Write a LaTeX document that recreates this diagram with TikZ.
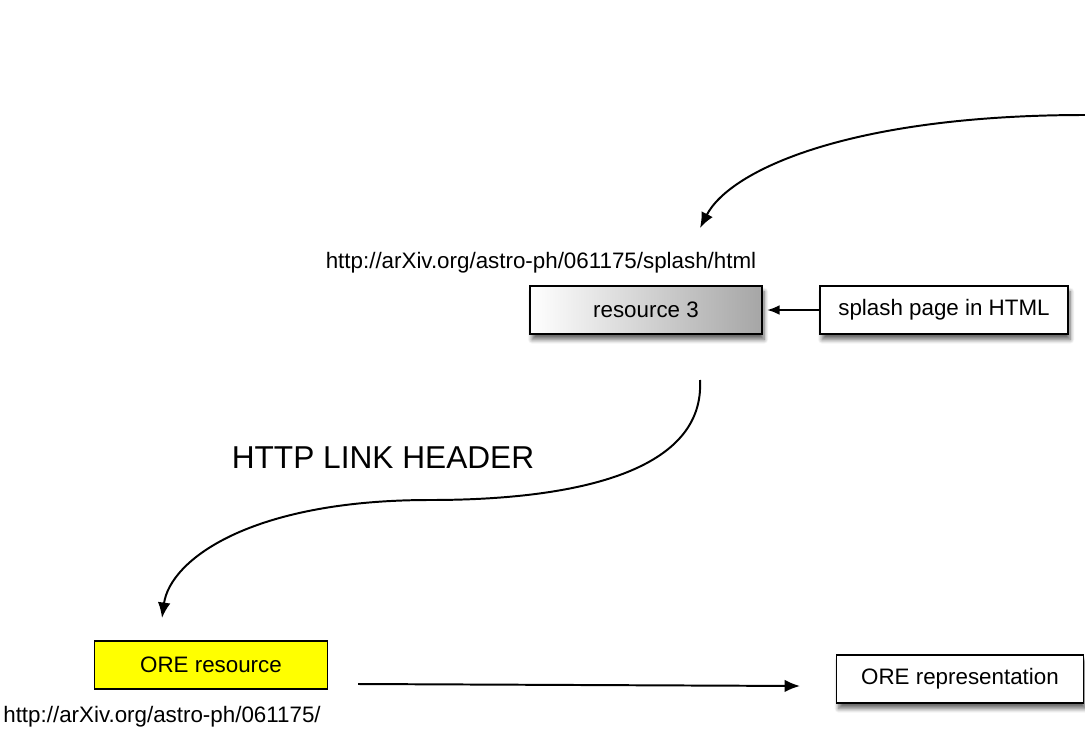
\documentclass[tikz,border=0pt]{standalone}
\usepackage{fontspec}
\setmainfont{Liberation Sans}
\usetikzlibrary{shadows.blur,arrows.meta}
\definecolor{oreyellow}{RGB}{255,255,0}

\begin{document}
\begin{tikzpicture}[x=0.025cm,y=-0.025cm,
  every node/.style={font=\fontsize{15.9}{19}\selectfont},
  box/.style={draw,line width=1.1pt,minimum width=5.8cm,minimum height=1.2cm,inner sep=0pt},
  shade box/.style={box,blur shadow={shadow xshift=1.5pt,shadow yshift=-4pt,
    shadow blur steps=8,shadow blur radius=3pt,shadow opacity=60}},
  flow/.style={-{Latex[length=11pt,width=9pt]},line width=1.4pt}]

\useasboundingbox (0,0) rectangle (1085,730);

% Boxes
\node[shade box,left color=white,right color=black!35] (res3) at (646,310) {resource 3};
\node[shade box,fill=white,minimum width=6.2cm] (splash) at (944,310) {splash page in HTML};
\node[box,fill=oreyellow,minimum width=5.825cm] (ore) at (211,665) {ORE resource};
\node[shade box,fill=white,minimum width=6.175cm] (orerep) at (960,679) {ORE representation};

% URLs
\node (res3 url) at (541,263) {http://arXiv.org/astro-ph/061175/splash/html};
\node (ore url) at (162,717) {http://arXiv.org/astro-ph/061175/};

% Loose ends of the curves
\coordinate (in top) at (1085,115);
\coordinate (in end) at (700,228);
\coordinate (hdr start) at (700,380);
\coordinate (hdr mid) at (430,500);
\coordinate (hdr end) at (162,618);
\coordinate (rep start) at (358,684);
\coordinate (rep end) at (800,686);

% Flows
\draw[flow,-{Latex[length=9pt,width=7pt]}] (splash.west) -- ([xshift=3pt]res3.east);
\draw[flow] (in top) .. controls (850,115) and (730,170) .. (in end);
\draw[flow] (hdr start) .. controls (705,470) and (580,500) .. (hdr mid)
  .. controls (250,500) and (170,560) .. (hdr end);
\draw[flow] (rep start) -- (rep end);

% Header label
\node[font=\fontsize{22.5}{27}\selectfont] (hdr) at (383,458) {HTTP LINK HEADER};

\end{tikzpicture}
\end{document}
